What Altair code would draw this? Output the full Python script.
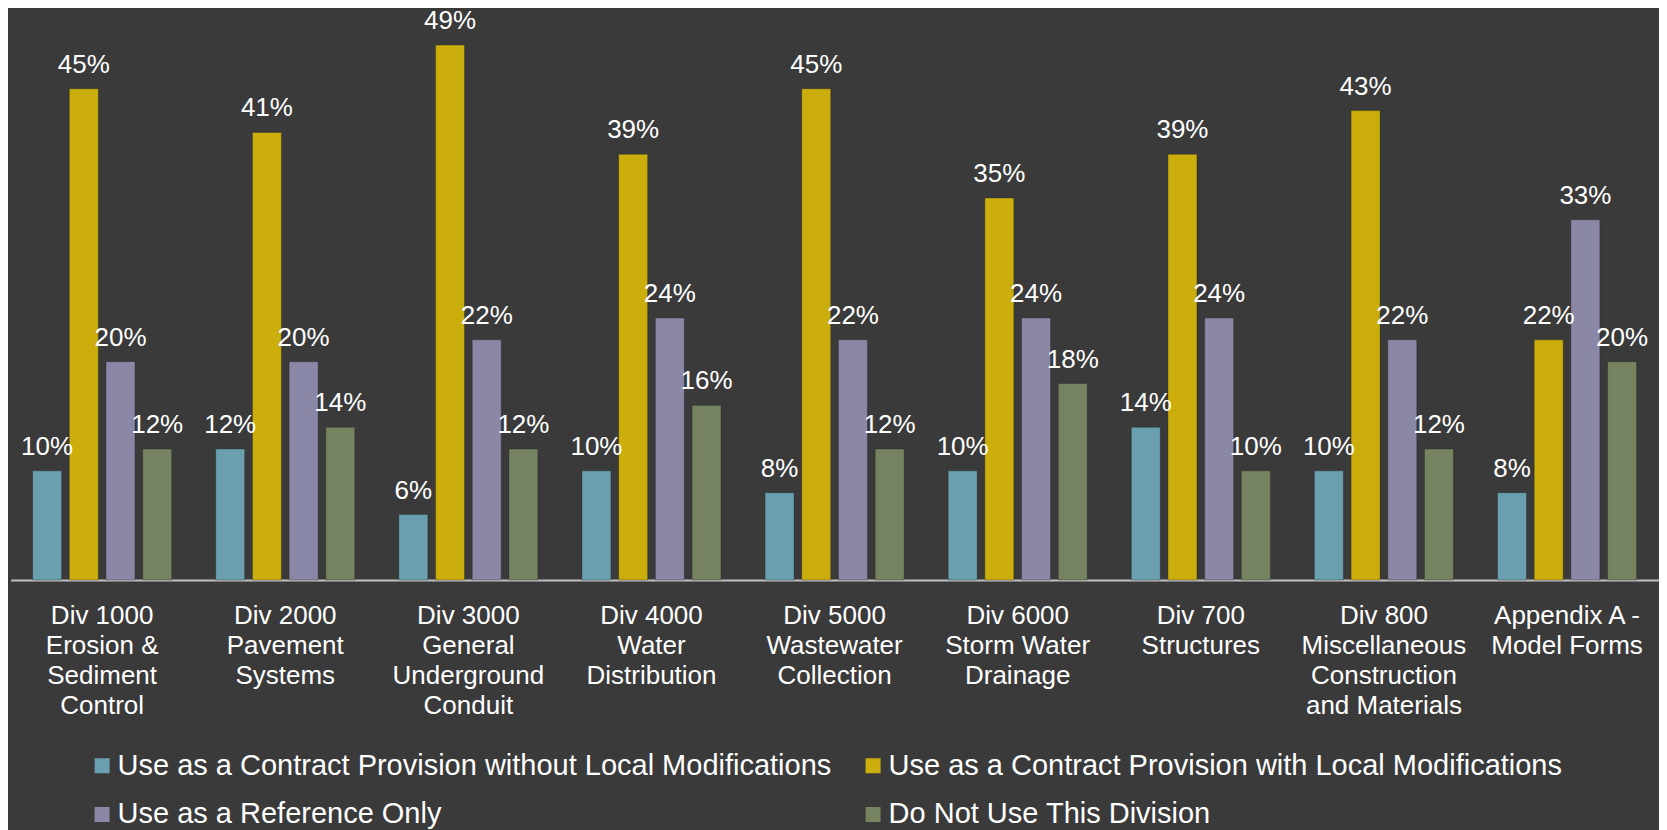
import altair as alt
import pandas as pd

categories = [
    "Div 1000|Erosion &|Sediment|Control",
    "Div 2000|Pavement|Systems",
    "Div 3000|General|Underground|Conduit",
    "Div 4000|Water|Distribution",
    "Div 5000|Wastewater|Collection",
    "Div 6000|Storm Water|Drainage",
    "Div 700|Structures",
    "Div 800|Miscellaneous|Construction|and Materials",
    "Appendix A -|Model Forms",
]
series = [
    "Use as a Contract Provision without Local Modifications",
    "Use as a Contract Provision with Local Modifications",
    "Use as a Reference Only",
    "Do Not Use This Division",
]
without_mods = [10, 12, 6, 10, 8, 10, 14, 10, 8]
with_mods = [45, 41, 49, 39, 45, 35, 39, 43, 22]
reference_only = [20, 20, 22, 24, 22, 24, 24, 22, 33]
do_not_use = [12, 14, 12, 16, 12, 18, 10, 12, 20]
colors = ["#6A9FB0", "#CBAE0C", "#8B87A6", "#758360"]

rows = []
for s, vals in zip(series, [without_mods, with_mods, reference_only, do_not_use]):
    for c, v in zip(categories, vals):
        rows.append({"category": c, "series": s, "value": v, "label": f"{v}%"})
df = pd.DataFrame(rows)

FONT = "Liberation Sans"

base = alt.Chart(df).encode(
    x=alt.X(
        "category:N",
        sort=categories,
        scale=alt.Scale(paddingInner=0, paddingOuter=0),
        axis=alt.Axis(
            title=None,
            labelExpr="split(datum.label, '|')",
            labelAngle=0,
            labelFont=FONT,
            labelFontSize=26,
            labelColor="#FFFFFF",
            labelLineHeight=30,
            labelBaseline="top",
            labelPadding=23,
            labelLimit=400,
            labelOverlap=False,
            ticks=False,
            tickSize=0,
            domainColor="#C0C0C0",
            domainWidth=2,
        ),
    ),
    xOffset=alt.XOffset(
        "series:N",
        sort=series,
        scale=alt.Scale(paddingInner=0.21, paddingOuter=0.6),
    ),
    y=alt.Y(
        "value:Q",
        scale=alt.Scale(domain=[0, 52.4], nice=False, zero=True),
        axis=None,
    ),
)

bars = base.mark_bar(strokeWidth=1, strokeOpacity=0.35, stroke="#222222").encode(
    color=alt.Color(
        "series:N",
        sort=series,
        scale=alt.Scale(domain=series, range=colors),
        legend=alt.Legend(
            title=None,
            orient="none",
            legendX=77,
            legendY=743,
            columns=2,
            direction="horizontal",
            symbolType="square",
            symbolSize=225,
            symbolStrokeWidth=0,
            labelFont=FONT,
            labelFontSize=29,
            labelColor="#FFFFFF",
            labelLimit=0,
            labelOffset=1,
            columnPadding=26,
            rowPadding=19,
        ),
    )
)

text = base.mark_text(
    baseline="alphabetic", dy=-16, fontSize=26, font=FONT, color="#FFFFFF"
).encode(text="label:N")

chart = (
    alt.layer(bars, text)
    .properties(
        width=1648,
        height=572,
        padding={"left": 2.6, "top": 0, "right": 0, "bottom": 0},
        background="#3A3A3A",
    )
    .configure_view(stroke=None)
)

chart.save("out.html", embed_options={"renderer": "svg", "actions": False})
